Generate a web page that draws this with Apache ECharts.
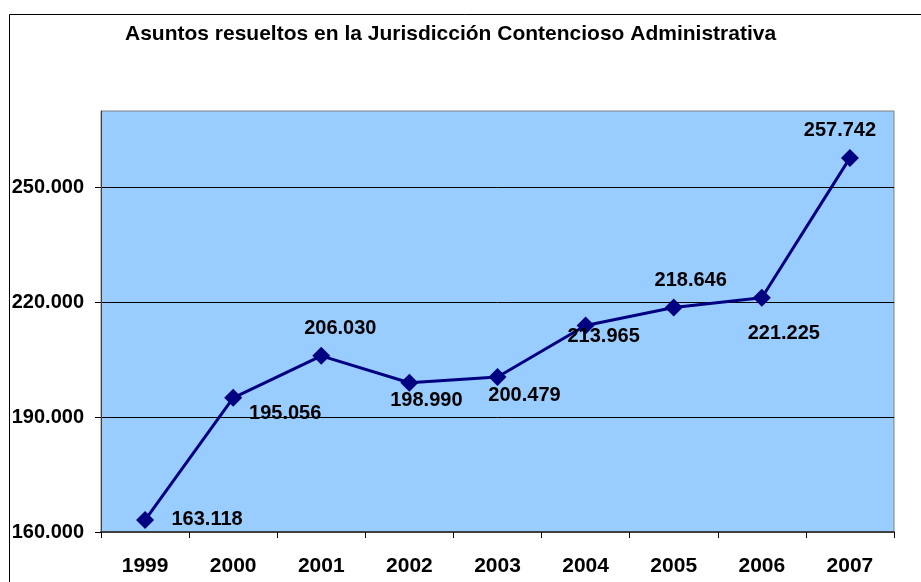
<!DOCTYPE html>
<html>
<head>
<meta charset="utf-8">
<script src="https://cdn.jsdelivr.net/npm/echarts@6/dist/echarts.min.js"></script>
<style>
html,body{margin:0;padding:0;background:#fff;}
#chart{width:921px;height:582px;}
</style>
</head>
<body>
<div id="chart"></div>
<script>
const titleText = 'Asuntos resueltos en la Jurisdicción Contencioso Administrativa';
const years = ['1999','2000','2001','2002','2003','2004','2005','2006','2007'];
const resolved = [163118, 195056, 206030, 198990, 200479, 213965, 218646, 221225, 257742];
const yTicks = [160000, 190000, 220000, 250000];
// label offsets relative to marker centre (style only)
const labelOffsets = [[62,-1],[52,16],[19,-27],[17,18],[27,18],[18,11],[17,-27],[22,36],[-10,-27]];

function fmt(v){
  return String(v).replace(/\B(?=(\d{3})+(?!\d))/g, '.');
}

const FONT = '"Liberation Sans", Arial, sans-serif';
const chart = echarts.init(document.getElementById('chart'));
chart.setOption({
  animation: false,
  backgroundColor: '#fff',
  title: {
    text: titleText,
    left: 120, top: 19,
    textStyle: {fontFamily: FONT, fontWeight: 'bold', fontSize: 21, color: '#000'}
  },
  graphic: [{
    type: 'rect', left: 7, top: 12, silent: true, z: -1,
    shape: {width: 1000, height: 1000},
    style: {fill: null, stroke: '#000', lineWidth: 1}
  }],
  grid: {
    left: 101, top: 111, right: 27, bottom: 50,
    show: true, backgroundColor: '#99CCFF', borderColor: '#808080', borderWidth: 1
  },
  xAxis: {
    type: 'category',
    data: years,
    boundaryGap: true,
    axisLine: {lineStyle: {color: '#404040', width: 2}},
    axisTick: {show: true, length: 6, inside: false, lineStyle: {color: '#000'}},
    axisLabel: {margin: 24, color: '#000', fontFamily: FONT, fontWeight: 'bold', fontSize: 21},
    splitLine: {show: false}
  },
  yAxis: {
    type: 'value',
    min: 160000, max: 270000,
    axisLine: {show: true, lineStyle: {color: '#404040', width: 1}},
    axisTick: {show: true, length: 6, customValues: yTicks, lineStyle: {color: '#000'}},
    axisLabel: {customValues: yTicks, margin: 17, color: '#000', fontFamily: FONT, fontWeight: 'bold', fontSize: 20, formatter: fmt},
    splitLine: {show: true, lineStyle: {color: '#000', width: 1}}
  },
  series: [{
    type: 'line',
    data: resolved.map((v, i) => ({
      value: v,
      label: {offset: labelOffsets[i]}
    })),
    lineStyle: {color: '#000080', width: 3},
    itemStyle: {color: '#000080'},
    symbol: 'diamond',
    symbolSize: 18,
    label: {
      show: true, position: 'inside', align: 'center', verticalAlign: 'middle',
      color: '#000', fontFamily: FONT, fontWeight: 'bold', fontSize: 20,
      formatter: p => fmt(p.value)
    },
    z: 5
  }]
});
</script>
</body>
</html>
